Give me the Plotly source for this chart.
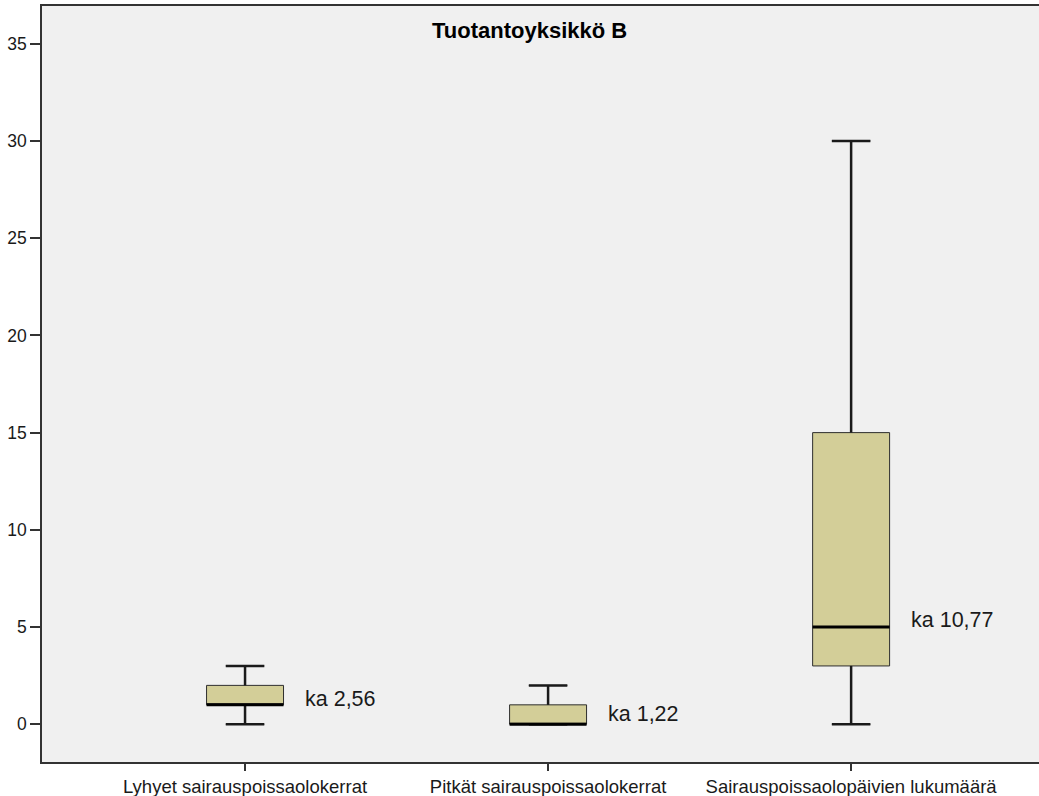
import plotly.graph_objects as go

# Sick-leave statistics for production unit B
categories = ["Lyhyet sairauspoissaolokerrat",
              "Pitkät sairauspoissaolokerrat",
              "Sairauspoissaolopäivien lukumäärä"]
minimum = [0, 0, 0]
q1 = [1, 0, 3]
median = [1, 0, 5]
q3 = [2, 1, 15]
maximum = [3, 2, 30]
means = [2.56, 1.22, 10.77]
mean_label_y = [1.3, 0.55, 5.35]
title_text = "Tuotantoyksikkö B"

positions = list(range(len(categories)))
box_width = 0.254
cap_half = box_width / 4
FONT = "Liberation Sans, Arial, sans-serif"
INK = "#1a1a1a"

fig = go.Figure()

fig.add_trace(go.Box(
    x=positions, q1=q1, median=median, q3=q3,
    lowerfence=minimum, upperfence=maximum,
    width=box_width, whiskerwidth=0.5,
    fillcolor="#D3CE98", line=dict(color="#2e2e2e", width=1),
    boxpoints=False, showlegend=False, hoverinfo="skip",
))

# heavier whiskers and caps
wx, wy = [], []
for p, lo, a, b, hi in zip(positions, minimum, q1, q3, maximum):
    wx += [p, p, None, p, p, None,
           p - cap_half, p + cap_half, None, p - cap_half, p + cap_half, None]
    wy += [lo, a, None, b, hi, None, lo, lo, None, hi, hi, None]
fig.add_trace(go.Scatter(x=wx, y=wy, mode="lines",
                         line=dict(color=INK, width=2.5),
                         showlegend=False, hoverinfo="skip"))

# heavier median bars
mx, my = [], []
for p, m in zip(positions, median):
    mx += [p - box_width / 2, p + box_width / 2, None]
    my += [m, m, None]
fig.add_trace(go.Scatter(x=mx, y=my, mode="lines",
                         line=dict(color="black", width=3),
                         showlegend=False, hoverinfo="skip"))

for p, m, ly in zip(positions, means, mean_label_y):
    fig.add_annotation(x=p + 0.19, y=ly, text="ka " + f"{m:.2f}".replace(".", ","),
                       xanchor="left", yanchor="middle", showarrow=False,
                       font=dict(family=FONT, size=21.5, color=INK))

fig.add_annotation(x=0.489, xref="paper", y=35.7, yref="y", text="<b>" + title_text + "</b>",
                   showarrow=False, xanchor="center", yanchor="middle",
                   font=dict(family=FONT, size=22, color="black"))

fig.update_layout(
    width=1039, height=796,
    margin=dict(l=42, r=0, t=6, b=34),
    paper_bgcolor="white", plot_bgcolor="#F0F0F0",
    font=dict(family=FONT, size=18, color=INK),
    xaxis=dict(range=[-0.670, 2.620], tickvals=positions, ticktext=categories,
               showgrid=False, zeroline=False, showline=True, linecolor="#333333",
               linewidth=1.5, mirror=True, ticks="outside", ticklen=7,
               tickwidth=2, tickcolor="#333333", automargin=False,
               tickfont=dict(family=FONT, size=18.5, color=INK)),
    yaxis=dict(range=[-1.94, 36.94], tickvals=[0, 5, 10, 15, 20, 25, 30, 35],
               showgrid=False, zeroline=False, showline=True, linecolor="#333333",
               linewidth=1.5, ticks="outside", ticklen=10, tickwidth=2,
               tickcolor="#333333", automargin=False,
               tickfont=dict(family=FONT, size=17.5, color=INK)),
)

fig.write_html("out.html")
